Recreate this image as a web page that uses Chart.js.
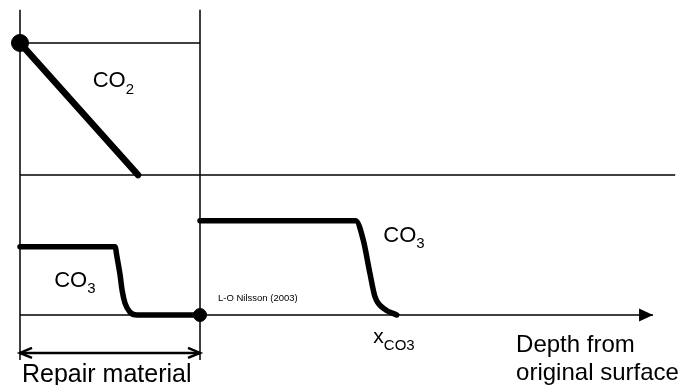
<!DOCTYPE html>
<html>
<head>
<meta charset="utf-8">
<script src="https://cdn.jsdelivr.net/npm/chart.js@4.4.0/dist/chart.umd.min.js"></script>
<style>
  html, body { margin: 0; padding: 0; background: #fff; }
  #wrap { width: 683px; height: 385px; }
</style>
</head>
<body>
<div id="wrap"><canvas id="profileChart" width="683" height="385"></canvas></div>
<script>
// depth unit = repair material thickness, concentration unit = panel height
// top panel (CO2) sits one unit above the bottom panel (CO3)
const CO2_BASE = 1;

// CO2 profile in the repair material
const co2Depth = [0, 0.656];
const co2Conc = [0.943, 0];

// CO3 profile in the repair material
const co3RepairDepth = [0, 0.528, 0.539, 0.556, 0.567, 0.583, 0.611, 0.65, 1.0];
const co3RepairConc = [0.488, 0.488, 0.414, 0.286, 0.179, 0.086, 0.021, 0, 0];

// CO3 profile in the original concrete
const co3ConcreteDepth = [1.0, 1.865, 1.907, 1.944, 1.972, 2.019, 2.093];
const co3ConcreteConc = [0.674, 0.674, 0.536, 0.298, 0.131, 0.048, 0];

// frame of the sketch
const frameTop = 2.18;
const frameBottom = -0.321;
const depthAxisEnd = 3.517;
const co2AxisEnd = 3.64;
const repairArrowLevel = -0.271;

function pts(xs, ys, base) {
    return xs.map((x, i) => ({ x: x, y: ys[i] + (base || 0) }));
}

// thin line helper
function thin(points, extra) {
    return Object.assign({
        data: points,
        borderColor: '#000',
        borderWidth: 1.5,
        pointRadius: 0,
        showLine: true,
        fill: false
    }, extra || {});
}

// thick profile helper
function thick(points, extra) {
    return Object.assign({
        data: points,
        borderColor: '#000',
        borderWidth: 5.5,
        borderCapStyle: 'round',
        borderJoinStyle: 'round',
        pointRadius: 0,
        showLine: true,
        fill: false,
        cubicInterpolationMode: 'monotone'
    }, extra || {});
}

// text labels, anchored in data units
const FONT = '"Liberation Sans", Arial, sans-serif';
const labels = [
    { x: 0.404, y: 1.629, text: 'CO', sub: '2', size: 22, subSize: 15 },
    { x: 0.19, y: 0.202, text: 'CO', sub: '3', size: 22, subSize: 15 },
    { x: 2.018, y: 0.524, text: 'CO', sub: '3', size: 22, subSize: 15 },
    { x: 1.963, y: -0.202, text: 'x', sub: 'CO3', size: 21, subSize: 15 },
    { x: 1.1, y: 0.102, text: 'L-O Nilsson (2003)', size: 9.5 },
    { x: 2.756, y: -0.262, text: 'Depth from', size: 24 },
    { x: 2.756, y: -0.464, text: 'original surface', size: 24 },
    { x: 0.011, y: -0.476, text: 'Repair material', size: 25 }
];

const arrowPlugin = {
    id: 'arrows',
    afterDatasetsDraw(chart) {
        const ctx = chart.ctx;
        chart.data.datasets.forEach((ds, i) => {
            if (!ds.arrow) return;
            const pts = chart.getDatasetMeta(i).data;
            const ends = [];
            ends.push([pts[pts.length - 1], pts[pts.length - 2]]);
            if (ds.arrow === 'both') ends.push([pts[0], pts[1]]);
            ends.forEach(([tip, prev]) => {
                const ang = Math.atan2(tip.y - prev.y, tip.x - prev.x);
                const len = ds.arrowLength, half = ds.arrowHalf;
                const bx = tip.x - len * Math.cos(ang), by = tip.y - len * Math.sin(ang);
                const px = -Math.sin(ang) * half, py = Math.cos(ang) * half;
                ctx.save();
                ctx.beginPath();
                ctx.moveTo(bx + px, by + py);
                ctx.lineTo(tip.x, tip.y);
                ctx.lineTo(bx - px, by - py);
                if (ds.arrowFill) {
                    ctx.closePath();
                    ctx.fillStyle = '#000';
                    ctx.fill();
                } else {
                    ctx.strokeStyle = '#000';
                    ctx.lineWidth = 2.5;
                    ctx.stroke();
                }
                ctx.restore();
            });
        });
    }
};

const textPlugin = {
    id: 'texts',
    afterDraw(chart) {
        const ctx = chart.ctx;
        const xs = chart.scales.x, ys = chart.scales.y;
        ctx.save();
        ctx.fillStyle = '#000';
        ctx.textBaseline = 'alphabetic';
        ctx.textAlign = 'left';
        labels.forEach(l => {
            const px = xs.getPixelForValue(l.x), py = ys.getPixelForValue(l.y);
            ctx.font = l.size + 'px ' + FONT;
            ctx.fillText(l.text, px, py);
            if (l.sub) {
                const w = ctx.measureText(l.text).width;
                ctx.font = l.subSize + 'px ' + FONT;
                ctx.fillText(l.sub, px + w, py + l.size * 0.3);
            }
        });
        ctx.restore();
    }
};

const ctx = document.getElementById('profileChart').getContext('2d');

const profileChart = new Chart(ctx, {
    type: 'scatter',
    data: {
        datasets: [
            thin([{ x: 0, y: frameTop }, { x: 0, y: frameBottom }]),
            thin([{ x: 1, y: frameTop }, { x: 1, y: frameBottom }]),
            thin(pts([0, 1], [co2Conc[0], co2Conc[0]], CO2_BASE)),
            thin([{ x: 0, y: CO2_BASE }, { x: co2AxisEnd, y: CO2_BASE }]),
            thin([{ x: 0, y: 0 }, { x: depthAxisEnd, y: 0 }],
                { arrow: 'end', arrowFill: true, arrowLength: 14, arrowHalf: 6.5 }),
            thin([{ x: 0, y: repairArrowLevel }, { x: 1, y: repairArrowLevel }],
                { borderWidth: 2.5, arrow: 'both', arrowFill: false, arrowLength: 12, arrowHalf: 5 }),
            thick(pts(co2Depth, co2Conc, CO2_BASE), { borderWidth: 6.5, cubicInterpolationMode: 'default' }),
            thick(pts(co3RepairDepth, co3RepairConc)),
            thick(pts(co3ConcreteDepth, co3ConcreteConc)),
            {
                data: [{ x: co2Depth[0], y: co2Conc[0] + CO2_BASE }, { x: 1, y: 0 }],
                backgroundColor: '#000',
                borderColor: '#000',
                pointRadius: [8.5, 6.5],
                showLine: false
            }
        ]
    },
    options: {
        responsive: false,
        animation: false,
        events: [],
        layout: { padding: 0, autoPadding: false },
        plugins: {
            legend: { display: false },
            tooltip: { enabled: false }
        },
        scales: {
            x: { type: 'linear', min: -0.1111, max: 3.6833, display: false },
            y: { type: 'linear', min: -0.5, max: 2.25, display: false }
        }
    },
    plugins: [arrowPlugin, textPlugin]
});
</script>
</body>
</html>
